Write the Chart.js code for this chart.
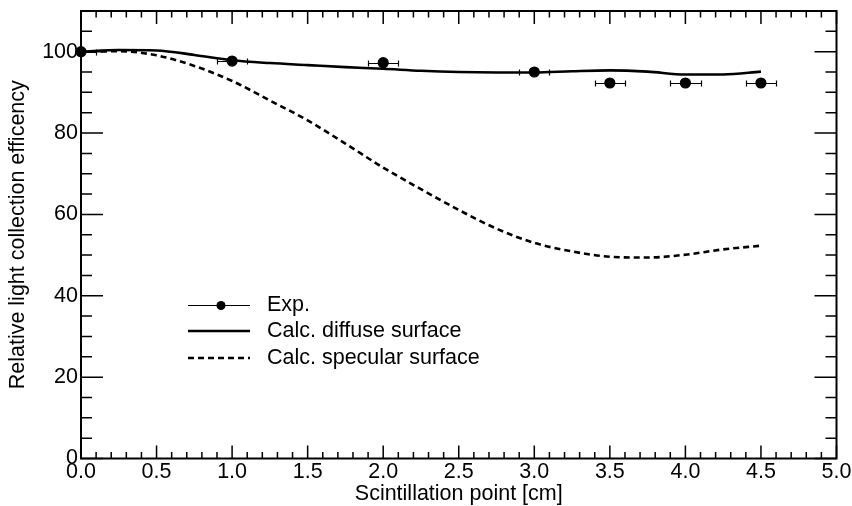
<!DOCTYPE html>
<html>
<head>
<meta charset="utf-8">
<title>Relative light collection efficiency</title>
<script src="https://cdn.jsdelivr.net/npm/chart.js@4.4.1/dist/chart.umd.min.js"></script>
<style>
  html, body { margin: 0; padding: 0; background: #fff; }
  #wrap { width: 852px; height: 506px; }
</style>
</head>
<body>
<div id="wrap"><canvas id="chart" width="852" height="506"></canvas></div>
<script>
// measured points (x in cm, efficiency in %)
const expX = [0.0, 1.0, 2.0, 3.0, 3.5, 4.0, 4.5];
const expY = [100.0, 97.7, 97.3, 95.0, 92.3, 92.3, 92.3];
const expXErr = [0.1, 0.1, 0.1, 0.1, 0.1, 0.1, 0.1];

// simulated curves
const calcX = [0, 0.25, 0.5, 0.75, 1.0, 1.25, 1.5, 1.75, 2.0, 2.25, 2.5, 2.75, 3.0, 3.25, 3.5, 3.75, 4.0, 4.25, 4.5];
const diffuseY = [100.0, 100.4, 100.3, 99.2, 97.9, 97.2, 96.7, 96.2, 95.8, 95.3, 95.0, 94.9, 94.9, 95.2, 95.4, 95.1, 94.4, 94.4, 95.1];
const specularY = [100.0, 100.1, 99.1, 96.5, 92.8, 88.0, 83.1, 77.4, 71.5, 66.2, 61.1, 56.5, 53.0, 50.9, 49.6, 49.4, 50.1, 51.4, 52.3];

const seriesLabels = ['Exp.', 'Calc. diffuse surface', 'Calc. specular surface'];

// axes
const xMajorTicks = [0, 0.5, 1.0, 1.5, 2.0, 2.5, 3.0, 3.5, 4.0, 4.5, 5.0];
const xTickLabels = ['0.0', '0.5', '1.0', '1.5', '2.0', '2.5', '3.0', '3.5', '4.0', '4.5', '5.0'];
const yMajorTicks = [0, 20, 40, 60, 80, 100];
const yTickLabels = ['0', '20', '40', '60', '80', '100'];
const xTitle = 'Scintillation point [cm]';
const yTitle = 'Relative light collection efficency';

const FONT = '21.5px "Liberation Sans", Arial, Helvetica, sans-serif';

function toPoints(xs, ys) {
    return xs.map((v, i) => ({ x: v, y: ys[i] }));
}

// ROOT-like frame: inward ticks on all four sides, labels, legend box, error bars
const rootFrame = {
    id: 'rootFrame',
    beforeDatasetsDraw(chart) {
        const { ctx, chartArea: a, scales: { x, y } } = chart;
        ctx.save();
        ctx.beginPath();
        ctx.rect(a.left, a.top, a.right - a.left, a.bottom - a.top);
        ctx.clip();
        ctx.strokeStyle = '#000';
        ctx.lineWidth = 1.2;
        expX.forEach((v, i) => {
            const py = Math.round(y.getPixelForValue(expY[i])) + 0.5;
            const x0 = Math.round(x.getPixelForValue(v - expXErr[i])) + 0.5;
            const x1 = Math.round(x.getPixelForValue(v + expXErr[i])) + 0.5;
            ctx.beginPath();
            ctx.moveTo(x0, py); ctx.lineTo(x1, py);
            ctx.moveTo(x0, py - 3); ctx.lineTo(x0, py + 3);
            ctx.moveTo(x1, py - 3); ctx.lineTo(x1, py + 3);
            ctx.stroke();
        });
        ctx.restore();
    },
    afterDraw(chart) {
        const { ctx, chartArea: a, scales: { x, y } } = chart;
        ctx.save();
        ctx.strokeStyle = '#000';
        ctx.fillStyle = '#000';

        // ticks
        ctx.lineWidth = 1.5;
        ctx.beginPath();
        for (let i = 0; i <= 50; i++) {
            const px = x.getPixelForValue(i / 10);
            const len = i % 5 === 0 ? 13 : 6.5;
            ctx.moveTo(px, a.bottom); ctx.lineTo(px, a.bottom - len);
            ctx.moveTo(px, a.top); ctx.lineTo(px, a.top + len);
        }
        for (let i = 0; i <= 21; i++) {
            const v = i * 5;
            const py = y.getPixelForValue(v);
            const len = v % 20 === 0 ? 22 : 11;
            ctx.moveTo(a.left, py); ctx.lineTo(a.left + len, py);
            ctx.moveTo(a.right, py); ctx.lineTo(a.right - len, py);
        }
        ctx.stroke();

        // frame
        ctx.lineWidth = 2;
        ctx.strokeRect(a.left, a.top, a.right - a.left, a.bottom - a.top);

        // tick labels
        ctx.font = FONT;
        ctx.textBaseline = 'middle';
        ctx.textAlign = 'center';
        xMajorTicks.forEach((v, i) => {
            ctx.fillText(xTickLabels[i], x.getPixelForValue(v), a.bottom + 14);
        });
        ctx.textAlign = 'right';
        yMajorTicks.forEach((v, i) => {
            ctx.fillText(yTickLabels[i], a.left - 3, y.getPixelForValue(v));
        });

        // axis titles
        ctx.textAlign = 'center';
        ctx.fillText(xTitle, (a.left + a.right) / 2, a.bottom + 36);
        ctx.save();
        ctx.translate(18.5, (a.top + a.bottom) / 2);
        ctx.rotate(-Math.PI / 2);
        ctx.fillText(yTitle, 0, 0);
        ctx.restore();

        // legend
        const rows = [305, 331, 358];
        ctx.textAlign = 'left';
        chart.data.datasets.forEach((ds, i) => {
            const ly = rows[i];
            const thin = ds.borderWidth <= 1.2;
            ctx.save();
            ctx.lineWidth = ds.borderWidth;
            ctx.setLineDash(ds.borderDash || []);
            ctx.beginPath();
            ctx.moveTo(188, thin ? ly + 0.5 : ly);
            ctx.lineTo(250, thin ? ly + 0.5 : ly);
            ctx.stroke();
            ctx.restore();
            if (ds.pointRadius > 0) {
                ctx.beginPath();
                ctx.arc(221, ly + 0.5, ds.pointRadius - 0.5, 0, Math.PI * 2);
                ctx.fill();
            }
            ctx.fillText(ds.label, 267, ly);
        });
        ctx.restore();
    }
};

new Chart(document.getElementById('chart'), {
    type: 'scatter',
    data: {
        datasets: [
            {
                label: seriesLabels[0],
                data: toPoints(expX, expY),
                showLine: false,
                pointRadius: 5,
                pointHoverRadius: 5,
                pointBackgroundColor: '#000',
                pointBorderColor: '#000',
                borderColor: '#000',
                borderWidth: 1.2,
                clip: false,
                order: 0
            },
            {
                label: seriesLabels[1],
                data: toPoints(calcX, diffuseY),
                showLine: true,
                cubicInterpolationMode: 'monotone',
                borderColor: '#000',
                borderWidth: 2.6,
                pointRadius: 0,
                order: 1
            },
            {
                label: seriesLabels[2],
                data: toPoints(calcX, specularY),
                showLine: true,
                cubicInterpolationMode: 'monotone',
                borderColor: '#000',
                borderWidth: 2.6,
                borderDash: [6, 4],
                pointRadius: 0,
                order: 2
            }
        ]
    },
    options: {
        responsive: false,
        animation: false,
        devicePixelRatio: 1,
        layout: { padding: { left: 81, top: 11, right: 15.5, bottom: 47.5 } },
        scales: {
            x: { type: 'linear', min: 0, max: 5, display: false },
            y: { type: 'linear', min: 0, max: 110, display: false }
        },
        plugins: {
            legend: { display: false },
            tooltip: { enabled: false }
        }
    },
    plugins: [rootFrame]
});
</script>
</body>
</html>
